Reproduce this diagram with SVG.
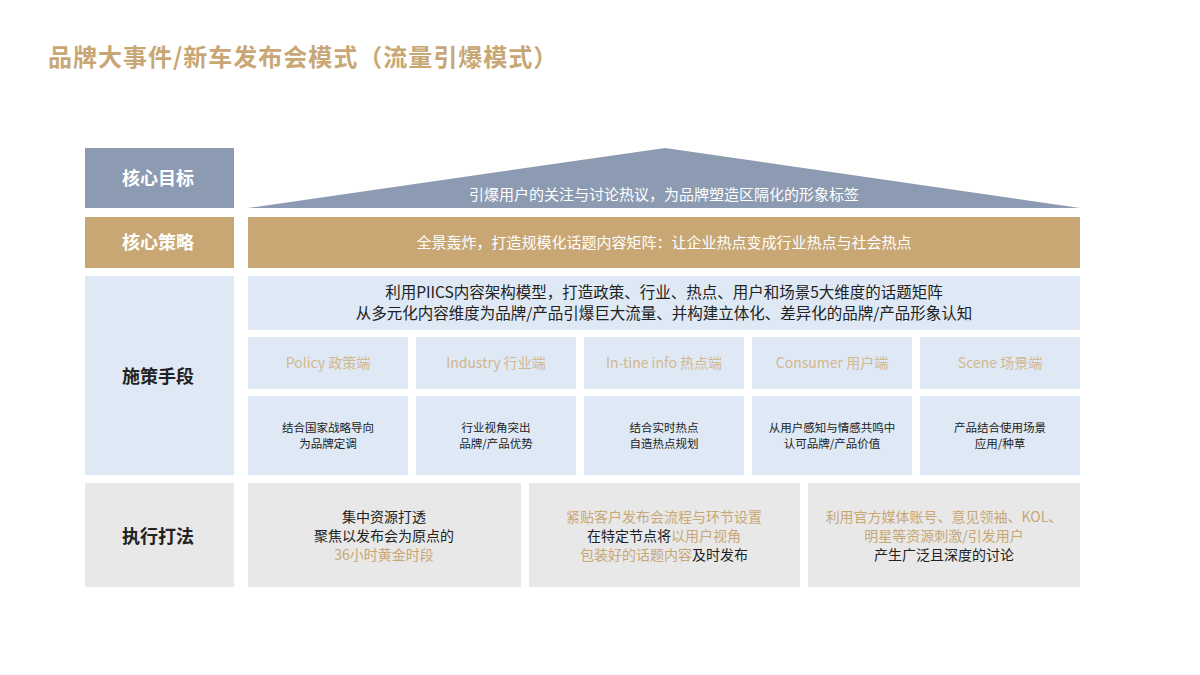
<svg xmlns="http://www.w3.org/2000/svg" width="1200" height="675" viewBox="0 0 1200 675">
<style>
text{font-family:"Noto Sans CJK SC","Liberation Sans",sans-serif;text-anchor:middle}
.lb{fill:#DEE9F5}.gr{fill:#E8E8E8}.gd{fill:#C8A775}
.lab{font-size:18px;font-weight:bold}
.h{font-size:14px;fill:#D2B88E}
.s{font-size:11.5px;fill:#222}
.t{font-size:14px;fill:#222}
.g{fill:#C8A775}
</style>
<rect width="1200" height="675" fill="#fff"/>
<text x="48" y="66" style="text-anchor:start;font-size:24px;font-weight:bold;fill:#C8A775;letter-spacing:1px">品牌大事件/新车发布会模式（流量引爆模式）</text>
<g id="goal">
<rect x="85" y="148" width="149" height="60" fill="#8C9BB1"/>
<text x="158" y="185" class="lab" fill="#fff">核心目标</text>
<polygon points="248,208 665,148 1080,208" fill="#8C9BB1"/>
<text x="664" y="200" style="font-size:15px;fill:#fff">引爆用户的关注与讨论热议，为品牌塑造区隔化的形象标签</text>
</g>
<g id="strategy">
<rect x="85" y="217" width="149" height="51" class="gd"/>
<text x="158" y="249" class="lab" fill="#fff">核心策略</text>
<rect x="248" y="217" width="832" height="51" class="gd"/>
<text x="664" y="248" style="font-size:15px;fill:#fff">全景轰炸，打造规模化话题内容矩阵：让企业热点变成行业热点与社会热点</text>
</g>
<g id="means">
<rect x="85" y="276" width="149" height="199" class="lb"/>
<text x="158" y="383" class="lab" fill="#222">施策手段</text>
<rect x="248" y="276" width="832" height="54" class="lb"/>
<text x="664" y="298" style="font-size:15.5px;fill:#222">利用PIICS内容架构模型，打造政策、行业、热点、用户和场景5大维度的话题矩阵</text>
<text x="664" y="319" style="font-size:15.5px;fill:#222">从多元化内容维度为品牌/产品引爆巨大流量、并构建立体化、差异化的品牌/产品形象认知</text>
</g>
<g id="dims">
<rect x="248" y="337" width="160" height="52" class="lb"/><text x="328" y="368" class="h">Policy 政策端</text>
<rect x="416" y="337" width="160" height="52" class="lb"/><text x="496" y="368" class="h">Industry 行业端</text>
<rect x="584" y="337" width="160" height="52" class="lb"/><text x="664" y="368" class="h">In-tine info 热点端</text>
<rect x="752" y="337" width="160" height="52" class="lb"/><text x="832" y="368" class="h">Consumer 用户端</text>
<rect x="920" y="337" width="160" height="52" class="lb"/><text x="1000" y="368" class="h">Scene 场景端</text>
<rect x="248" y="396" width="160" height="79" class="lb"/><text x="328" y="432" class="s">结合国家战略导向</text><text x="328" y="448" class="s">为品牌定调</text>
<rect x="416" y="396" width="160" height="79" class="lb"/><text x="496" y="432" class="s">行业视角突出</text><text x="496" y="448" class="s">品牌/产品优势</text>
<rect x="584" y="396" width="160" height="79" class="lb"/><text x="664" y="432" class="s">结合实时热点</text><text x="664" y="448" class="s">自造热点规划</text>
<rect x="752" y="396" width="160" height="79" class="lb"/><text x="832" y="432" class="s">从用户感知与情感共鸣中</text><text x="832" y="448" class="s">认可品牌/产品价值</text>
<rect x="920" y="396" width="160" height="79" class="lb"/><text x="1000" y="432" class="s">产品结合使用场景</text><text x="1000" y="448" class="s">应用/种草</text>
</g>
<g id="exec">
<rect x="85" y="483" width="149" height="104" class="gr"/>
<text x="158" y="543" class="lab" fill="#222">执行打法</text>
<rect x="248" y="483" width="273" height="104" class="gr"/>
<text x="384" y="522" class="t">集中资源打透</text>
<text x="384" y="541" class="t">聚焦以发布会为原点的</text>
<text x="384" y="560" class="t g">36小时黄金时段</text>
<rect x="529" y="483" width="271" height="104" class="gr"/>
<text x="664" y="522" class="t g">紧贴客户发布会流程与环节设置</text>
<text x="664" y="541" class="t">在特定节点将<tspan class="g">以用户视角</tspan></text>
<text x="664" y="560" class="t"><tspan class="g">包装好的话题内容</tspan>及时发布</text>
<rect x="808" y="483" width="272" height="104" class="gr"/>
<text x="944" y="522" class="t g">利用官方媒体账号、意见领袖、KOL、</text>
<text x="944" y="541" class="t g">明星等资源刺激/引发用户</text>
<text x="944" y="560" class="t">产生广泛且深度的讨论</text>
</g>
<g id="connectors"/>
</svg>
